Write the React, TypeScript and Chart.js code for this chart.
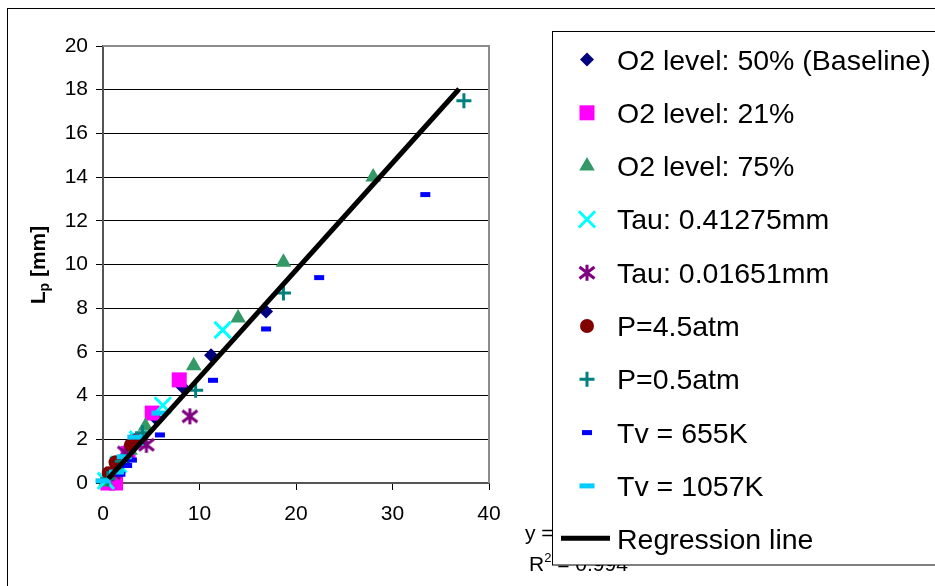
import React, { useEffect, useRef } from 'react';
import { Chart, registerables } from 'chart.js';

Chart.register(...registerables);

const FONT = '"Liberation Sans", Arial, Helvetica, sans-serif';

// ---- data ----
const seriesLabels = [
  'O2 level: 50% (Baseline)',
  'O2 level: 21%',
  'O2 level: 75%',
  'Tau: 0.41275mm',
  'Tau: 0.01651mm',
  'P=4.5atm',
  'P=0.5atm',
  'Tv = 655K',
  'Tv = 1057K',
];
const regressionLabel = 'Regression line';

const baselineX = [0.4, 1.2, 2.6, 5.6, 8.2, 11.2, 16.9];
const baselineY = [0.15, 0.5, 1.2, 2.9, 4.4, 5.85, 7.85];

const o21X = [0.5, 1.3, 2.6, 3.6, 5.1, 7.9];
const o21Y = [0.0, 0.0, 1.35, 1.95, 3.2, 4.72];

const o75X = [0.3, 1.5, 2.8, 4.4, 9.4, 14.0, 18.7, 28.0];
const o75Y = [0.05, 0.7, 1.5, 2.6, 5.37, 7.55, 10.1, 14.0];

const tau41X = [0.3, 1.6, 3.6, 6.2, 12.4];
const tau41Y = [0.1, 0.85, 2.0, 3.55, 7.0];

const tau01X = [1.0, 2.3, 4.5, 9.0];
const tau01Y = [0.45, 1.4, 1.75, 3.05];

const p45X = [0.6, 1.3, 2.9, 3.4];
const p45Y = [0.45, 0.95, 1.75, 1.95];

const p05X = [0.5, 2.0, 4.1, 9.6, 18.7, 37.4];
const p05Y = [0.2, 1.0, 2.3, 4.25, 8.7, 17.5];

const tv655X = [1.8, 2.5, 3.0, 5.9, 11.4, 16.9, 22.4, 33.4];
const tv655Y = [0.4, 0.8, 1.05, 2.2, 4.7, 7.05, 9.4, 13.2];

const tv1057X = [0.0, 1.4, 2.2, 3.3, 5.8];
const tv1057Y = [0.1, 0.5, 1.2, 2.1, 3.2];

const regressionX = [0.55, 36.9];
const regressionY = [0.2, 18.03];

const equationText = 'y = 0.4905x - 0.0698';
const r2Value = '0.994';

const xMin = 0, xMax = 40, xStep = 10;
const yMin = 0, yMax = 20, yStep = 2;

const seriesX = [baselineX, o21X, o75X, tau41X, tau01X, p45X, p05X, tv655X, tv1057X];
const seriesY = [baselineY, o21Y, o75Y, tau41Y, tau01Y, p45Y, p05Y, tv655Y, tv1057Y];

// ---- styles ----
type Sty = { kind: string; color: string; r: number; bw: number };
const styles: Sty[] = [
  { kind: 'rectRot', color: '#000080', r: 7, bw: 0 },
  { kind: 'rect', color: '#FF00FF', r: 10.6, bw: 0 },
  { kind: 'triangle', color: '#339966', r: 9, bw: 0 },
  { kind: 'crossRot', color: '#00FFFF', r: 11.5, bw: 3 },
  { kind: 'asterisk', color: '#800080', r: 8, bw: 3 },
  { kind: 'circle', color: '#800000', r: 7, bw: 0 },
  { kind: 'cross', color: '#008080', r: 7.5, bw: 3 },
  { kind: 'line', color: '#0000FF', r: 5, bw: 5 },
  { kind: 'line', color: '#00CCFF', r: 7.5, bw: 5 },
];

function drawAsteriskPath(g: CanvasRenderingContext2D, cx: number, cy: number, w: number, h: number) {
  g.beginPath();
  g.moveTo(cx, cy - h / 2);
  g.lineTo(cx, cy + h / 2);
  g.moveTo(cx - w / 2, cy - h * 0.36);
  g.lineTo(cx + w / 2, cy + h * 0.36);
  g.moveTo(cx + w / 2, cy - h * 0.36);
  g.lineTo(cx - w / 2, cy + h * 0.36);
  g.stroke();
}

function makeAsterisk(color: string): HTMLCanvasElement {
  const c = document.createElement('canvas');
  c.width = 20;
  c.height = 20;
  const g = c.getContext('2d')!;
  g.strokeStyle = color;
  g.lineWidth = 3;
  drawAsteriskPath(g, 10, 10, 15, 16);
  return c;
}

function drawMarker(ctx: CanvasRenderingContext2D, s: Sty, x: number, y: number) {
  ctx.save();
  ctx.fillStyle = s.color;
  ctx.strokeStyle = s.color;
  ctx.lineWidth = s.bw;
  const r = s.r;
  ctx.beginPath();
  switch (s.kind) {
    case 'rectRot':
      ctx.moveTo(x - r, y);
      ctx.lineTo(x, y - r);
      ctx.lineTo(x + r, y);
      ctx.lineTo(x, y + r);
      ctx.closePath();
      ctx.fill();
      break;
    case 'rect': {
      const h = r * Math.SQRT1_2;
      ctx.fillRect(x - h, y - h, 2 * h, 2 * h);
      break;
    }
    case 'triangle': {
      ctx.moveTo(x, y - r);
      ctx.lineTo(x + Math.sin((2 * Math.PI) / 3) * r, y - Math.cos((2 * Math.PI) / 3) * r);
      ctx.lineTo(x + Math.sin((4 * Math.PI) / 3) * r, y - Math.cos((4 * Math.PI) / 3) * r);
      ctx.closePath();
      ctx.fill();
      break;
    }
    case 'crossRot': {
      const d = r * Math.SQRT1_2;
      ctx.moveTo(x - d, y - d);
      ctx.lineTo(x + d, y + d);
      ctx.moveTo(x + d, y - d);
      ctx.lineTo(x - d, y + d);
      ctx.stroke();
      break;
    }
    case 'asterisk':
      drawAsteriskPath(ctx, x, y, 15, 16);
      break;
    case 'circle':
      ctx.arc(x, y, r, 0, Math.PI * 2);
      ctx.fill();
      break;
    case 'cross':
      ctx.moveTo(x - r, y);
      ctx.lineTo(x + r, y);
      ctx.moveTo(x, y - r);
      ctx.lineTo(x, y + r);
      ctx.stroke();
      break;
    case 'line':
      ctx.moveTo(x - r, y);
      ctx.lineTo(x + r, y);
      ctx.stroke();
      break;
  }
  ctx.restore();
}

const overlayPlugin = {
  id: 'overlay',
  afterDraw(chart: any) {
    const ctx: CanvasRenderingContext2D = chart.ctx;
    const ca = chart.chartArea;
    ctx.save();

    // plot area top/right border
    ctx.strokeStyle = '#8c8c8c';
    ctx.lineWidth = 2;
    ctx.beginPath();
    ctx.moveTo(ca.left, ca.top);
    ctx.lineTo(ca.right, ca.top);
    ctx.lineTo(ca.right, ca.bottom);
    ctx.stroke();

    // outer frame
    ctx.strokeStyle = '#000';
    ctx.lineWidth = 1;
    ctx.strokeRect(7.5, 8.5, 1000, 700);

    // y axis title with subscript
    ctx.fillStyle = '#000';
    ctx.translate(45, 265);
    ctx.rotate(-Math.PI / 2);
    ctx.textBaseline = 'alphabetic';
    ctx.textAlign = 'left';
    const big = `bold 21px ${FONT}`;
    const small = `bold 14px ${FONT}`;
    ctx.font = big;
    const wL = ctx.measureText('L').width;
    const wRest = ctx.measureText(' [mm]').width;
    ctx.font = small;
    const wp = ctx.measureText('p').width;
    const total = wL + wp + wRest;
    let tx = -total / 2;
    ctx.font = big;
    ctx.fillText('L', tx, 0);
    tx += wL;
    ctx.font = small;
    ctx.fillText('p', tx, 4);
    tx += wp;
    ctx.font = big;
    ctx.fillText(' [mm]', tx, 0);
    ctx.setTransform(1, 0, 0, 1, 0, 0);

    // trendline equation (partly hidden behind the legend)
    ctx.font = `21px ${FONT}`;
    ctx.fillStyle = '#000';
    ctx.textBaseline = 'alphabetic';
    ctx.fillText(equationText, 525, 540);
    const rx = 529;
    ctx.fillText('R', rx, 571);
    const wR = ctx.measureText('R').width;
    ctx.font = `13px ${FONT}`;
    ctx.fillText('2', rx + wR, 562);
    const w2 = ctx.measureText('2').width;
    ctx.font = `21px ${FONT}`;
    ctx.fillText(' = ' + r2Value, rx + wR + w2, 571);

    // legend box
    ctx.fillStyle = '#fff';
    ctx.fillRect(552, 31, 500, 534);
    ctx.strokeStyle = '#000';
    ctx.lineWidth = 1;
    ctx.strokeRect(552.5, 31.5, 500, 533.5);

    const rowTop = 59.5;
    const rowStep = 53.3;
    ctx.font = `28.5px ${FONT}`;
    ctx.textBaseline = 'alphabetic';
    ctx.textAlign = 'left';
    seriesLabels.forEach((lab, i) => {
      const cy = rowTop + i * rowStep;
      drawMarker(ctx, styles[i], 587, cy);
      ctx.fillStyle = '#000';
      ctx.fillText(lab, 617, cy + 10);
    });
    const cyR = rowTop + seriesLabels.length * rowStep;
    ctx.strokeStyle = '#000';
    ctx.lineWidth = 5;
    ctx.beginPath();
    ctx.moveTo(561, cyR - 1);
    ctx.lineTo(610, cyR - 1);
    ctx.stroke();
    ctx.fillStyle = '#000';
    ctx.fillText(regressionLabel, 617, cyR + 10);

    ctx.restore();
  },
};

export default function App() {
  const ref = useRef<HTMLCanvasElement | null>(null);

  useEffect(() => {
    document.body.style.margin = '0';
    const canvas = ref.current!;
    const asterisk = makeAsterisk(styles[4].color);

    const datasets: any[] = seriesLabels.map((label, i) => {
      const s = styles[i];
      return {
        label,
        data: seriesX[i].map((x, j) => ({ x, y: seriesY[i][j] })),
        pointStyle: s.kind === 'asterisk' ? asterisk : s.kind,
        pointRadius: s.r,
        pointHoverRadius: s.r,
        backgroundColor: s.color,
        borderColor: s.color,
        pointBorderWidth: s.bw,
        borderWidth: s.bw,
        showLine: false,
        clip: false,
        order: 10 - i,
      };
    });
    datasets.push({
      type: 'line',
      label: regressionLabel,
      data: regressionX.map((x, j) => ({ x, y: regressionY[j] })),
      borderColor: '#000',
      backgroundColor: '#000',
      borderWidth: 5,
      pointRadius: 0,
      showLine: true,
      fill: false,
      clip: false,
      order: 0,
    });

    const tickFont = { family: FONT, size: 21 };

    const chart = new Chart(canvas, {
      type: 'scatter',
      data: { datasets },
      options: {
        animation: false,
        responsive: false,
        maintainAspectRatio: false,
        events: [],
        layout: { padding: { left: 0, top: 46, right: 446, bottom: 0 } },
        plugins: {
          legend: { display: false },
          tooltip: { enabled: false },
          title: { display: false },
        },
        scales: {
          x: {
            type: 'linear',
            position: 'bottom',
            min: xMin,
            max: xMax,
            ticks: { stepSize: xStep, color: '#000', font: tickFont, padding: 12, maxRotation: 0 },
            grid: { drawOnChartArea: false, drawTicks: true, tickLength: 7, color: '#000', lineWidth: 1 },
            border: { display: true, color: '#555', width: 2 },
            afterFit: (s: any) => {
              s.height = 103;
            },
          },
          y: {
            type: 'linear',
            min: yMin,
            max: yMax,
            ticks: { stepSize: yStep, color: '#000', font: tickFont, padding: 8 },
            grid: { drawTicks: true, tickLength: 7, color: '#000', lineWidth: 1 },
            border: { display: true, color: '#555', width: 2 },
            afterFit: (s: any) => {
              s.width = 103;
            },
          },
        },
      } as any,
      plugins: [overlayPlugin],
    });
    return () => chart.destroy();
  }, []);

  return (
    <div style={{ width: 935, height: 586, background: '#fff' }}>
      <canvas ref={ref} width={935} height={586} style={{ display: 'block' }} />
    </div>
  );
}
